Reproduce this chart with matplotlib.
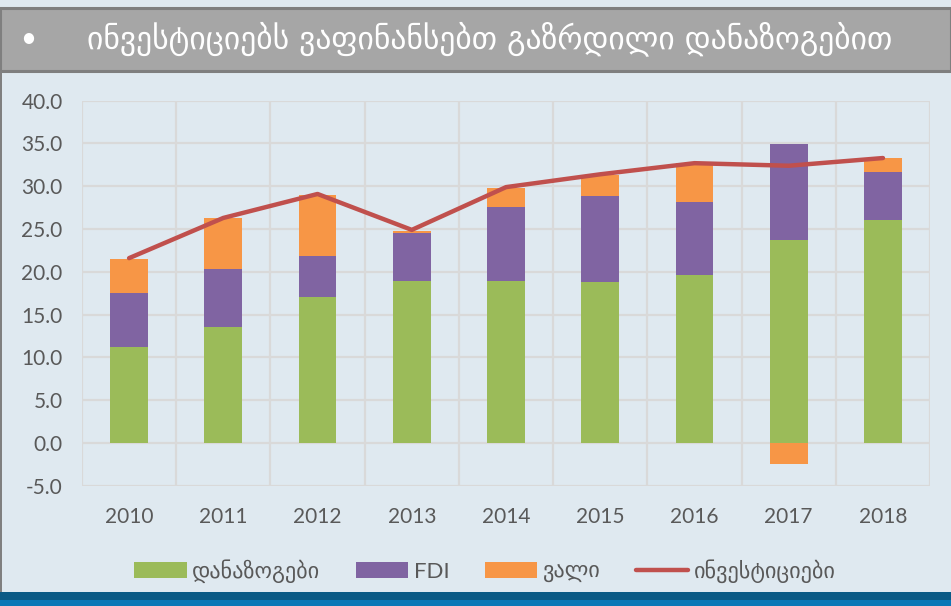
import matplotlib.pyplot as plt
import numpy as np
from matplotlib.patches import Rectangle

years = ["2010", "2011", "2012", "2013", "2014", "2015", "2016", "2017", "2018"]
savings = [11.2, 13.5, 17.1, 18.9, 18.9, 18.8, 19.6, 23.7, 26.0]
fdi = [6.3, 6.8, 4.7, 5.6, 8.7, 10.1, 8.6, 11.2, 5.7]
debt = [4.0, 6.0, 7.2, 0.3, 2.2, 2.4, 4.5, -2.5, 1.6]
investment = [21.6, 26.3, 29.1, 24.9, 29.9, 31.4, 32.7, 32.4, 33.3]

title = "ინვესტიციებს ვაფინანსებთ გაზრდილი დანაზოგებით"
labels = ["დანაზოგები", "FDI", "ვალი", "ინვესტიციები"]

bg = "#dfe9f0"
plt.rcParams["font.family"] = ["Lato", "DejaVu Sans"]

fig = plt.figure(figsize=(9.51, 6.06), dpi=100, facecolor=bg)
ax = fig.add_axes([0.0862, 0.1985, 0.8918, 0.6353])
ax.set_facecolor(bg)

x = np.arange(len(years))
savings = np.array(savings)
fdi = np.array(fdi)
debt = np.array(debt)
w = 0.4

b1 = ax.bar(x, savings, w, color="#9bbb59", label=labels[0], zorder=3)
b2 = ax.bar(x, fdi, w, bottom=savings, color="#8064a2", label=labels[1], zorder=3)
# negative debt goes below zero
debt_bottom = np.where(debt >= 0, savings + fdi, 0)
b3 = ax.bar(x, debt, w, bottom=debt_bottom, color="#f79646", label=labels[2], zorder=3)
ln, = ax.plot(x, investment, color="#c0504d", lw=3.2, solid_capstyle="round",
              solid_joinstyle="round", label=labels[3], zorder=4)

ax.set_xlim(-0.5, len(years) - 0.5)
ax.set_ylim(-5, 40)
ax.set_yticks(np.arange(-5, 41, 5))
ax.set_yticklabels(["%.1f" % v for v in np.arange(-5, 41, 5)])
ax.set_xticks(x)
ax.set_xticklabels(years)
ax.set_xticks(np.arange(-0.5, len(years), 1), minor=True)
ax.grid(axis="y", color="#d9d9d9", lw=1.6, zorder=0)
ax.grid(axis="x", which="minor", color="#d9d9d9", lw=1.6, zorder=0)
ax.tick_params(which="both", length=0, labelsize=15, labelcolor="#595959")
ax.tick_params(axis="y", pad=14)
ax.tick_params(axis="x", pad=15)
for s in ax.spines.values():
    s.set_visible(False)

# title band
fig.patches.append(Rectangle((0, 1 - 71 / 606), 1, 63 / 606, transform=fig.transFigure,
                             facecolor="#a6a6a6", edgecolor="#7f7f7f", lw=2.2))
fig.text(28 / 951, 1 - 39 / 606, "•", color="white", fontsize=20, va="center", ha="center")
fig.text(0.515, 1 - 39 / 606, title, color="white", fontsize=22.8, va="center", ha="center",
         family=["DejaVu Sans"])

# bottom strip and left edge
fig.patches.append(Rectangle((0, 6 / 606), 1, 8 / 606, transform=fig.transFigure,
                             facecolor="#0b5a85", lw=0))
fig.patches.append(Rectangle((0, 0), 1, 6 / 606, transform=fig.transFigure,
                             facecolor="#0a77b6", lw=0))
fig.patches.append(Rectangle((0, 14 / 606), 1.5 / 951, (592 - 71) / 606,
                             transform=fig.transFigure, facecolor="#808080", lw=0))

leg = fig.legend([b1, b2, b3, ln], labels, loc="center", bbox_to_anchor=(0.51, 1 - 571 / 606),
                 ncol=4, frameon=False, fontsize=16, handlelength=2.35, handleheight=0.7,
                 handletextpad=0.25, columnspacing=1.6, labelcolor="#595959")

fig.savefig("out.png", dpi=100, facecolor=bg)
